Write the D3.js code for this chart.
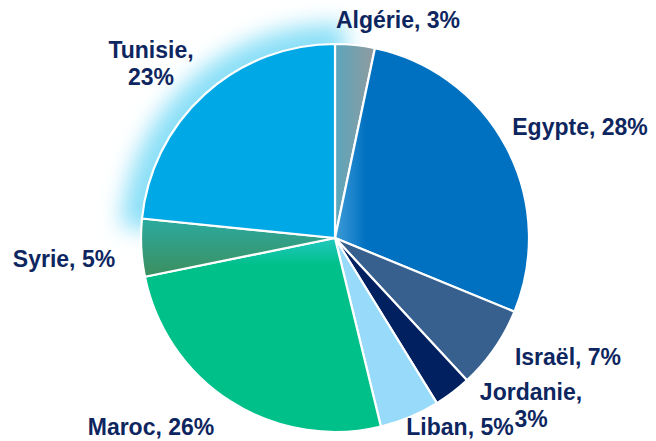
<!DOCTYPE html>
<html>
<head>
<meta charset="utf-8">
<script src="https://cdn.jsdelivr.net/npm/d3@7/dist/d3.min.js"></script>
<style>
html,body{margin:0;padding:0;background:#fff;}
svg{display:block;}
</style>
</head>
<body>
<svg id="chart" width="656" height="441"></svg>
<script>
const categories = ["Algérie","Egypte","Israël","Jordanie","Liban","Maroc","Syrie","Tunisie"];
const values = [3.3, 27.9, 6.9, 3.1, 5.0, 25.6, 4.8, 23.4];
const pctLabels = ["3%","28%","7%","3%","5%","26%","5%","23%"];
const colors = ["url(#gAlg)","url(#gEgy)","#37608F","#002060","#97DAFA","url(#gMar)","url(#gSyr)","#00A8E6"];
const labelLines = [
  ["Algérie, 3%"],["Egypte, 28%"],["Israël, 7%"],["Jordanie,","3%"],
  ["Liban, 5%"],["Maroc, 26%"],["Syrie, 5%"],["Tunisie,","23%"]
];
const labelPos = [[398,28],[580,135],[568,365],[531,400],[460,435],[151,435],[64,267],[151,58]];

const svg = d3.select("#chart");
const cx = 335, cy = 238, R = 194;
const defs = svg.append("defs");

function lin(id, x1,y1,x2,y2, stops){
  const g = defs.append("linearGradient").attr("id",id)
    .attr("x1",x1).attr("y1",y1).attr("x2",x2).attr("y2",y2);
  stops.forEach(s=>g.append("stop").attr("offset",s[0]).attr("stop-color",s[1]));
}
lin("gAlg",0,0,1,0,[[0,"#5AA6BC"],[1,"#929A9E"]]);
lin("gEgy",0,0,1,0,[[0,"#3E9CD8"],[0.16,"#0070C0"],[1,"#0070C0"]]);
lin("gMar",0,0,0,1,[[0,"#22C8C0"],[0.14,"#00C08A"],[1,"#00C08A"]]);
lin("gSyr",0,0,0,1,[[0,"#2BAAA0"],[1,"#3C8F5E"]]);

const blur = defs.append("filter").attr("id","glow")
  .attr("x","-40%").attr("y","-40%").attr("width","180%").attr("height","180%");
blur.append("feGaussianBlur").attr("stdDeviation",11);

const pie = d3.pie().sort(null).value(d=>d)(values);
const arc = d3.arc().innerRadius(0).outerRadius(R);
const g = svg.append("g").attr("transform",`translate(${cx},${cy})`);

const tun = pie[7];
g.append("path")
  .attr("d", d3.arc().innerRadius(0).outerRadius(R+20)({startAngle:tun.startAngle-0.05,endAngle:tun.endAngle+0.05}))
  .attr("fill","#8ADFF7")
  .attr("filter","url(#glow)");

g.selectAll("path.slice").data(pie).enter().append("path")
  .attr("class","slice")
  .attr("d",arc)
  .attr("fill",(d,i)=>colors[i])
  .attr("stroke","#fff")
  .attr("stroke-width",2.2)
  .attr("stroke-linejoin","round");

const lab = svg.append("g").attr("font-family","'Liberation Sans', Arial, sans-serif")
  .attr("font-weight","bold").attr("font-size",23).attr("fill","#0E2660")
  .attr("text-anchor","middle");
labelLines.forEach((lines,i)=>{
  const t = lab.append("text").attr("x",labelPos[i][0]).attr("y",labelPos[i][1]);
  lines.forEach((ln,j)=>{
    t.append("tspan").attr("x",labelPos[i][0]).attr("dy", j===0?0:27).text(ln);
  });
});
</script>
</body>
</html>
